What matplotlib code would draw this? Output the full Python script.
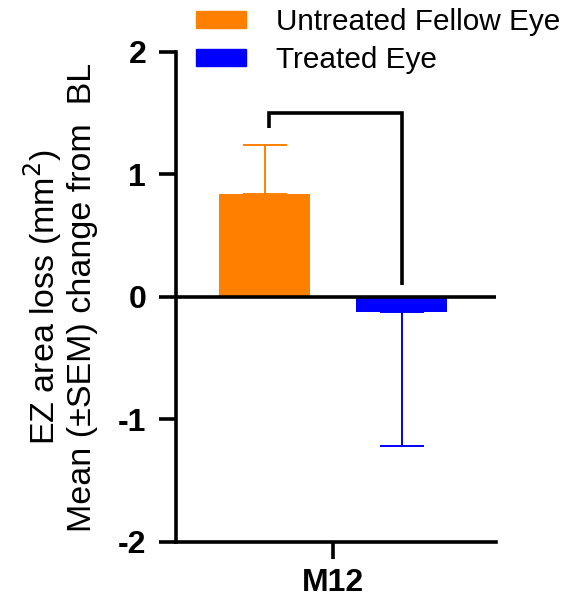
import matplotlib.pyplot as plt
from matplotlib.patches import Patch

plt.rcParams['font.family'] = ['Liberation Sans', 'DejaVu Sans']

# data
groups = ["Untreated Fellow Eye", "Treated Eye"]
means = [0.84, -0.12]
sems = [0.40, 1.10]
colors = ["#FF8000", "#0000FF"]
timepoint = "M12"

fig = plt.figure(figsize=(5.72, 6.03), dpi=100)
ax = fig.add_axes([0.3077, 0.1012, 0.5594, 0.8126])

offsets = [-0.217, 0.22]
width = 0.29
for off, m, s, c in zip(offsets, means, sems, colors):
    ax.bar(off, m, width=width, color=c, edgecolor="none", zorder=2)
    # only the outward half of the error bar
    if m >= 0:
        ax.errorbar(off, m, yerr=[[0], [s]], fmt="none", ecolor=c,
                    elinewidth=1.4, capsize=16, capthick=1.4, zorder=1)
    else:
        ax.errorbar(off, m, yerr=[[s], [0]], fmt="none", ecolor=c,
                    elinewidth=1.4, capsize=16, capthick=1.4, zorder=1)

# zero line
ax.axhline(0, color="black", lw=2.6, zorder=3)

# significance bracket
ax.plot([offsets[0] + 0.0125, offsets[0] + 0.0125, offsets[1], offsets[1]],
        [1.38, 1.5, 1.5, 0.1], color="black", lw=2.6,
        solid_capstyle="butt", solid_joinstyle="miter")

ax.set_xlim(-0.5, 0.52)
ax.set_ylim(-2, 2)
ax.set_yticks([-2, -1, 0, 1, 2])
ax.set_yticklabels(["-2", "-1", "0", "1", "2"], fontsize=23, fontweight="bold")
ax.set_xticks([0])
ax.set_xticklabels([timepoint], fontsize=23, fontweight="bold")

for side in ["top", "right"]:
    ax.spines[side].set_visible(False)
for side in ["left", "bottom"]:
    ax.spines[side].set_linewidth(2.6)
ax.tick_params(axis="both", width=2.6, length=12.5)
ax.tick_params(axis="y", pad=9)
ax.tick_params(axis="x", pad=6)

ax.set_ylabel("EZ area loss (mm$^2$)\nMean (±SEM) change from  BL",
              fontsize=24.5, labelpad=14.5, linespacing=1.09)

handles = [Patch(color=c, label=g) for g, c in zip(groups, colors)]
leg = fig.legend(handles=handles, loc="upper left", bbox_to_anchor=(0.321, 1.006),
                 frameon=False, fontsize=21.4, handlelength=1.7, handleheight=0.5,
                 handletextpad=1.0, labelspacing=0.33, borderaxespad=0)

fig.savefig("out.png", dpi=100)
